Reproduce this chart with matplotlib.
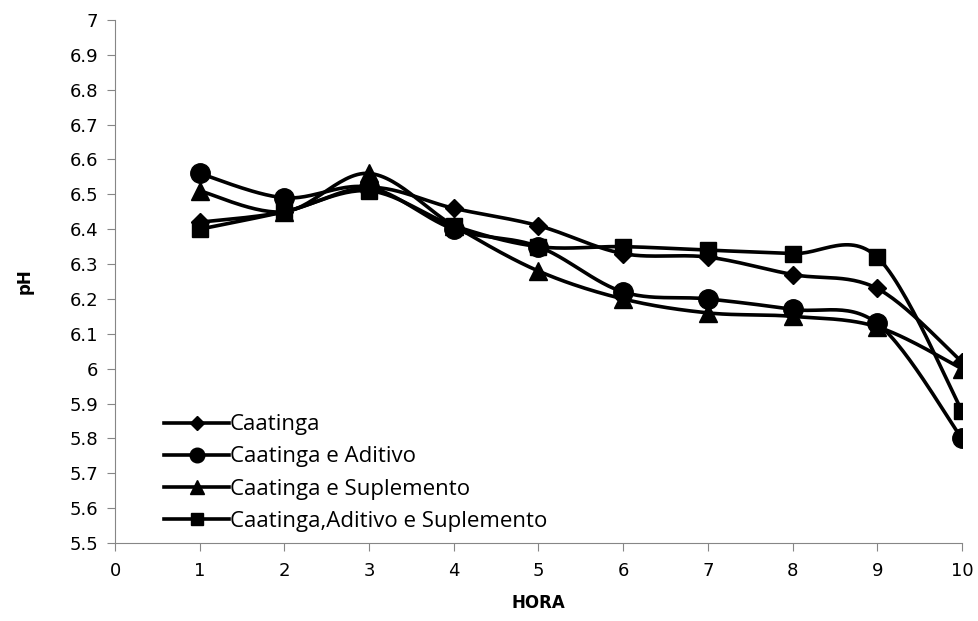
import numpy as np
import matplotlib
matplotlib.use('Agg')
import matplotlib.pyplot as plt
from matplotlib.lines import Line2D

# Hours and pH readings for each treatment
hora = [1, 2, 3, 4, 5, 6, 7, 8, 9, 10]
caatinga = [6.42, 6.45, 6.52, 6.46, 6.41, 6.33, 6.32, 6.27, 6.23, 6.02]
caatinga_aditivo = [6.56, 6.49, 6.52, 6.40, 6.35, 6.22, 6.20, 6.17, 6.13, 5.80]
caatinga_suplemento = [6.51, 6.45, 6.56, 6.41, 6.28, 6.20, 6.16, 6.15, 6.12, 6.00]
caatinga_adit_supl = [6.40, 6.45, 6.51, 6.41, 6.35, 6.35, 6.34, 6.33, 6.32, 5.88]

labels = ['Caatinga', 'Caatinga e Aditivo', 'Caatinga e Suplemento',
          'Caatinga,Aditivo e Suplemento']
series = [caatinga, caatinga_aditivo, caatinga_suplemento, caatinga_adit_supl]
markers = ['D', 'o', '^', 's']
msizes = [9, 14, 13, 12]

# Excel-style smoothed line: cubic Bezier through the points
def smoothCurve(x, y, steps=30):
    x = np.asarray(x, float)
    y = np.asarray(y, float)
    n = len(x)
    xs, ys = [], []
    for i in range(n - 1):
        p0 = np.array([x[max(i - 1, 0)], y[max(i - 1, 0)]])
        p1 = np.array([x[i], y[i]])
        p2 = np.array([x[i + 1], y[i + 1]])
        p3 = np.array([x[min(i + 2, n - 1)], y[min(i + 2, n - 1)]])
        c1 = p1 + (p2 - p0) / 6.0
        c2 = p2 - (p3 - p1) / 6.0
        t = np.linspace(0, 1, steps)[:, None]
        pts = ((1 - t) ** 3) * p1 + 3 * ((1 - t) ** 2) * t * c1 \
            + 3 * (1 - t) * t ** 2 * c2 + t ** 3 * p2
        xs.extend(pts[:, 0])
        ys.extend(pts[:, 1])
    return xs, ys

fig = plt.figure(figsize=(9.79, 6.21), dpi=100)
ax = fig.add_axes([0.1175, 0.1256, 0.865, 0.8422])

handles = []
for vals, m, ms, lab in zip(series, markers, msizes, labels):
    sx, sy = smoothCurve(hora, vals)
    ax.plot(sx, sy, color='black', linewidth=2.6, zorder=2)
    ax.plot(hora, vals, linestyle='none', marker=m, markersize=ms,
            color='black', zorder=3)
    handles.append(Line2D([], [], color='black', linewidth=2.6, marker=m,
                          markersize=ms * 0.75, label=lab))

ax.set_xlim(0, 10)
ax.set_ylim(5.5, 7)
ax.set_xticks(range(0, 11))
yt = np.round(np.arange(5.5, 7.01, 0.1), 1)
ax.set_yticks(yt)
ax.set_yticklabels(['%g' % v for v in yt])

for side in ['top', 'right']:
    ax.spines[side].set_visible(False)
for side in ['left', 'bottom']:
    ax.spines[side].set_color('#868686')
ax.tick_params(axis='both', colors='#868686', labelcolor='black',
               labelsize=13, length=6, direction='out')
ax.tick_params(axis='x', pad=8)
ax.tick_params(axis='y', pad=6)

ax.set_xlabel('HORA', fontsize=12, fontweight='bold', labelpad=10)
ax.set_ylabel('pH', fontsize=12, fontweight='bold', labelpad=26)

leg = ax.legend(handles=handles, loc='lower left', bbox_to_anchor=(0.04, -0.008),
                frameon=False, handlelength=2.9,
                handletextpad=0.05, labelspacing=0.5, borderaxespad=0.3,
                prop={'family': 'Open Sans', 'size': 16})

fig.savefig('out.png', dpi=100)
